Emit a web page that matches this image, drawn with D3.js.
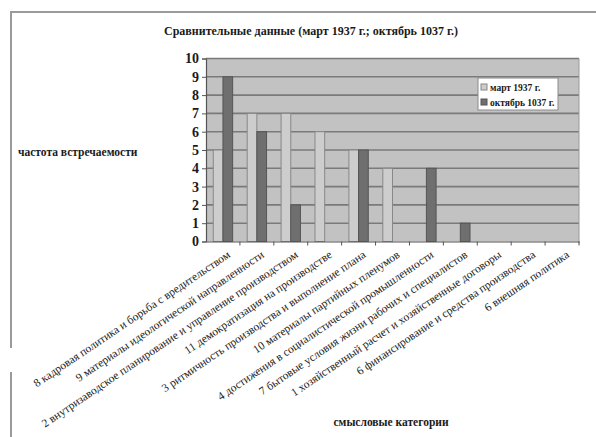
<!DOCTYPE html>
<html>
<head>
<meta charset="utf-8">
<script src="https://cdn.jsdelivr.net/npm/d3@7"></script>
<style>
  body { margin: 0; background: #ffffff; }
  svg text { font-family: "Liberation Serif", "DejaVu Serif", serif !important; }
</style>
</head>
<body>
<div id="chart"></div>
<script>
var categories = [
  "8 кадровая политика и борьба с вредительством",
  "9 материалы идеологической направленности",
  "2 внутризаводское планирование и управление производством",
  "11 демократизация на производстве",
  "3 ритмичность производства и выполнение плана",
  "10 материалы партийных пленумов",
  "4 достижения в социалистической промышленности",
  "7 бытовые условия жизни рабочих и специалистов",
  "1 хозяйственный расчет и хозяйственные договоры",
  "6 финансирование и средства производства",
  "6 внешняя политика"
];
var seriesNames = ["март 1937 г.", "октябрь 1037 г."];
var march = [5, 7, 7, 6, 5, 4, 0, 0, 0, 0, 0];
var october = [9, 6, 2, 0, 5, 0, 4, 1, 0, 0, 0];
var yTicks = [0, 1, 2, 3, 4, 5, 6, 7, 8, 9, 10];

var width = 596;
var height = 437;
var plot = { left: 206, right: 579, top: 58.5, bottom: 241.5 };
var colors = { fill: ["#cdcdcd", "#6f6f6f"], stroke: ["#888888", "#555555"] };

var rows = categories.map(function (c, i) {
  return { cat: c, values: [march[i], october[i]] };
});

var svg = d3.select("#chart").append("svg")
  .attr("width", width)
  .attr("height", height);

// outer frame (only top and left edges show)
svg.append("line")
  .attr("x1", 10).attr("y1", 12).attr("x2", width).attr("y2", 12)
  .attr("stroke", "#9a9a9a").attr("stroke-width", 2);
svg.append("line")
  .attr("x1", 11).attr("y1", 12).attr("x2", 11).attr("y2", 348)
  .attr("stroke", "#9a9a9a").attr("stroke-width", 2);
svg.append("line")
  .attr("x1", 11).attr("y1", 372).attr("x2", 11).attr("y2", height)
  .attr("stroke", "#9a9a9a").attr("stroke-width", 2);

var x0 = d3.scaleBand()
  .domain(categories)
  .range([plot.left, plot.right])
  .padding(0);

var x1 = d3.scaleBand()
  .domain([0, 1])
  .range([0, x0.bandwidth()])
  .paddingInner(0)
  .paddingOuter(0.75);

var y = d3.scaleLinear()
  .domain([0, 10])
  .range([plot.bottom, plot.top]);

svg.append("rect")
  .attr("x", plot.left)
  .attr("y", plot.top)
  .attr("width", plot.right - plot.left)
  .attr("height", plot.bottom - plot.top)
  .attr("fill", "#c2c2c2");

// gridlines
svg.append("g")
  .selectAll("line")
  .data(yTicks.filter(function (d) { return d > 0; }))
  .enter()
  .append("line")
  .attr("x1", plot.left)
  .attr("x2", plot.right)
  .attr("y1", function (d) { return y(d); })
  .attr("y2", function (d) { return y(d); })
  .attr("stroke", "#7a7a7a")
  .attr("stroke-width", 1.6);

// bars
var groups = svg.append("g")
  .selectAll("g")
  .data(rows)
  .enter()
  .append("g")
  .attr("transform", function (d) { return "translate(" + x0(d.cat) + ",0)"; });

groups.selectAll("rect")
  .data(function (d) {
    return d.values
      .map(function (v, i) { return { i: i, v: v }; })
      .filter(function (e) { return e.v > 0; });
  })
  .enter()
  .append("rect")
  .attr("x", function (d) { return x1(d.i); })
  .attr("y", function (d) { return y(d.v); })
  .attr("width", x1.bandwidth())
  .attr("height", function (d) { return y(0) - y(d.v); })
  .attr("fill", function (d) { return colors.fill[d.i]; })
  .attr("stroke", function (d) { return colors.stroke[d.i]; })
  .attr("stroke-width", 1);

svg.append("line")
  .attr("x1", plot.right).attr("x2", plot.right)
  .attr("y1", plot.top).attr("y2", plot.bottom + 2)
  .attr("stroke", "#9a9a9a").attr("stroke-width", 1);

// y axis
var yAxis = svg.append("g")
  .attr("transform", "translate(" + plot.left + ",0)")
  .call(d3.axisLeft(y).tickValues(yTicks).tickSize(4).tickPadding(3).tickFormat(d3.format("d")));
yAxis.select(".domain").attr("stroke", "#555").attr("stroke-width", 1.2);
yAxis.selectAll(".tick line").attr("stroke", "#555");
yAxis.selectAll("text")
  .attr("font-size", 14)
  .attr("font-weight", "bold")
  .attr("fill", "#1a1a1a");

// x axis
var xAxis = svg.append("g")
  .attr("transform", "translate(0," + plot.bottom + ")")
  .call(d3.axisBottom(x0).tickSize(0).tickFormat(""));
xAxis.select(".domain").attr("stroke", "#555").attr("stroke-width", 1.2);

svg.append("g")
  .selectAll("line")
  .data(categories)
  .enter()
  .append("line")
  .attr("x1", function (d) { return x0(d) + x0.bandwidth(); })
  .attr("x2", function (d) { return x0(d) + x0.bandwidth(); })
  .attr("y1", plot.bottom)
  .attr("y2", plot.bottom + 4)
  .attr("stroke", "#555");

// rotated category labels
svg.append("g")
  .selectAll("text")
  .data(categories)
  .enter()
  .append("text")
  .attr("transform", function (d) {
    return "translate(" + (x0(d) + x0.bandwidth() / 2 + 8) + "," + (plot.bottom + 15) + ") rotate(-34)";
  })
  .attr("text-anchor", "end")
  .attr("font-size", 11.5)
  .attr("fill", "#222")
  .text(function (d) { return d; });

svg.append("text")
  .attr("x", 311)
  .attr("y", 35)
  .attr("text-anchor", "middle")
  .attr("font-size", 12)
  .attr("font-weight", "bold")
  .attr("fill", "#1a1a1a")
  .text("Сравнительные данные (март 1937 г.; октябрь 1037 г.)");

svg.append("text")
  .attr("x", 18)
  .attr("y", 156)
  .attr("font-size", 11.5)
  .attr("font-weight", "bold")
  .attr("fill", "#1a1a1a")
  .text("частота встречаемости");

svg.append("text")
  .attr("x", 391)
  .attr("y", 426)
  .attr("text-anchor", "middle")
  .attr("font-size", 11.5)
  .attr("font-weight", "bold")
  .attr("fill", "#1a1a1a")
  .text("смысловые категории");

// legend
var legend = svg.append("g").attr("transform", "translate(478,78)");
legend.append("rect")
  .attr("width", 80)
  .attr("height", 32)
  .attr("fill", "#ffffff")
  .attr("stroke", "#8a8a8a");

var item = legend.selectAll(".item")
  .data(seriesNames)
  .enter()
  .append("g")
  .attr("class", "item")
  .attr("transform", function (d, i) { return "translate(3," + (9 + i * 15) + ")"; });

item.append("rect")
  .attr("x", 0)
  .attr("y", -3)
  .attr("width", 6)
  .attr("height", 6)
  .attr("fill", function (d, i) { return colors.fill[i]; })
  .attr("stroke", function (d, i) { return colors.stroke[i]; });

item.append("text")
  .attr("x", 9)
  .attr("y", 3.5)
  .attr("font-size", 9.5)
  .attr("font-weight", "bold")
  .attr("fill", "#1a1a1a")
  .text(function (d) { return d; });
</script>
</body>
</html>
